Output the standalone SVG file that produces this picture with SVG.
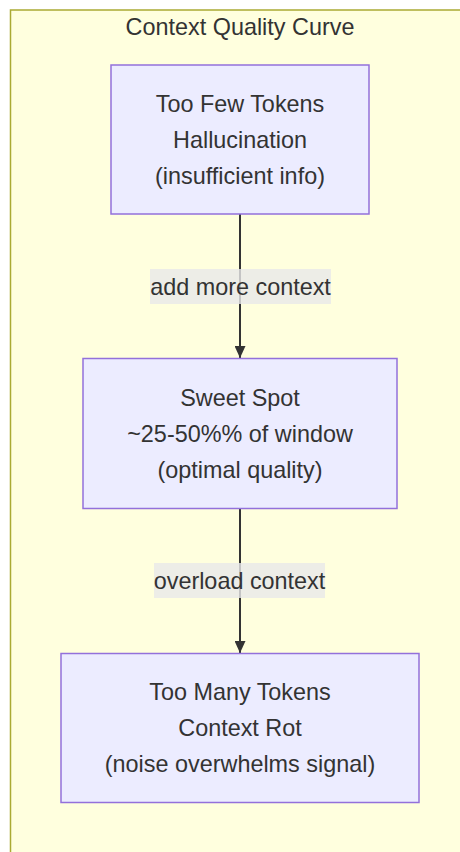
<svg xmlns="http://www.w3.org/2000/svg" width="460" height="852" viewBox="0 0 460 852">
  <style>
    text { font-family: "Liberation Sans", Arial, sans-serif; font-size: 23.4px; fill: #333333; text-anchor: middle; }
    .cluster { fill: #ffffde; stroke: #aaaa33; stroke-width: 1.5; }
    .node rect { fill: #ececff; stroke: #9370db; stroke-width: 1.5; }
    .edge { stroke: #333333; stroke-width: 2; fill: none; }
    .edge-label rect { fill: #e8e8e8; fill-opacity: 0.8; }
  </style>
  <defs>
    <marker id="arrowhead" viewBox="0 0 12 11" refX="12" refY="5.5" markerWidth="12" markerHeight="11" markerUnits="userSpaceOnUse" orient="auto">
      <path d="M0,0 L12,5.5 L0,11 z" fill="#333333"/>
    </marker>
  </defs>

  <!-- subgraph -->
  <g id="cluster-context-quality-curve">
    <rect class="cluster" x="10.5" y="10" width="500" height="900"/>
    <text x="240" y="35">Context Quality Curve</text>
  </g>

  <!-- connectors -->
  <g id="connectors">
    <line class="edge" x1="240" y1="214" x2="240" y2="358" marker-end="url(#arrowhead)"/>
    <line class="edge" x1="240" y1="509" x2="240" y2="653" marker-end="url(#arrowhead)"/>
    <g class="edge-label">
      <rect x="150" y="269" width="181" height="35"/>
      <text x="240.5" y="294.5">add more context</text>
    </g>
    <g class="edge-label">
      <rect x="154" y="563" width="171" height="35"/>
      <text x="239.5" y="588.5">overload context</text>
    </g>
  </g>

  <!-- nodes -->
  <g id="node-too-few" class="node">
    <rect x="111" y="65" width="258" height="149"/>
    <text x="240" y="111.5">Too Few Tokens</text>
    <text x="240" y="147.5">Hallucination</text>
    <text x="240" y="183.5">(insufficient info)</text>
  </g>
  <g id="node-sweet-spot" class="node">
    <rect x="83" y="358.5" width="314" height="150"/>
    <text x="240" y="405.5">Sweet Spot</text>
    <text x="240" y="441.5">~25-50%% of window</text>
    <text x="240" y="477.5">(optimal quality)</text>
  </g>
  <g id="node-too-many" class="node">
    <rect x="61" y="653.5" width="358" height="149"/>
    <text x="240" y="700">Too Many Tokens</text>
    <text x="240" y="736">Context Rot</text>
    <text x="240" y="772">(noise overwhelms signal)</text>
  </g>
</svg>
